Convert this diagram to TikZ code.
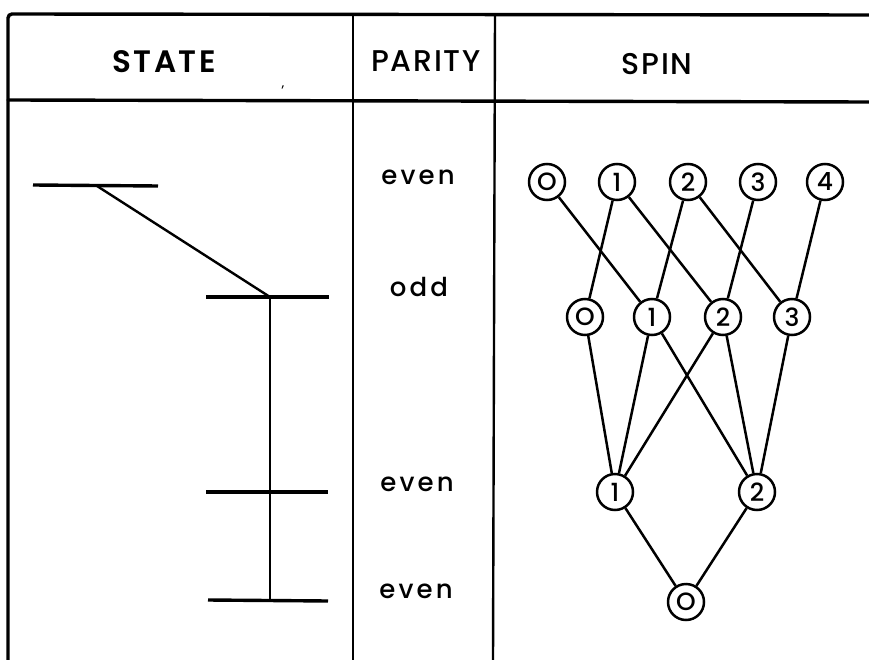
\documentclass[tikz,border=0pt]{standalone}
\usepackage{fontspec}
\setmainfont{Poppins Medium}
\newfontfamily\statefont[LetterSpace=8]{Poppins SemiBold}
\newfontfamily\headfont[LetterSpace=6]{Poppins Medium}
\newfontfamily\parfont[LetterSpace=12]{Poppins Medium}
\begin{document}
\begin{tikzpicture}[x=1pt,y=-1pt,
  frame/.style={line width=3.4pt,line cap=round},
  divider/.style={line width=2.4pt},
  level/.style={line width=3.4pt},
  link/.style={line width=2.4pt},
  headtxt/.style={font=\headfont\fontsize{30}{30}\selectfont,inner sep=0pt},
  partxt/.style={font=\parfont\fontsize{26}{26}\selectfont,inner sep=0pt},
  spin/.style={circle,draw,line width=2.5pt,minimum size=36pt,inner sep=0pt,
    font=\fontsize{25}{25}\selectfont},
  edge/.style={line width=2.5pt}]
\useasboundingbox (0,0) rectangle (869,660);
% frame
\coordinate (fbl) at (8,660);
\coordinate (ftl) at (8,14);
\coordinate (ftr) at (869,15);
\draw[frame,rounded corners=4pt] (fbl) -- (ftl) -- (ftr);
\coordinate (hl) at (8,100);
\coordinate (hr) at (869,102);
\draw[frame] (hl) -- (hr);
\coordinate (d1t) at (353,14);
\coordinate (d1b) at (353,660);
\coordinate (d2t) at (495,14);
\coordinate (d2b) at (493,660);
\draw[divider] (d1t) -- (d1b);
\draw[divider] (d2t) -- (d2b);
% headers
\node[inner sep=0pt,font=\statefont\fontsize{31}{31}\selectfont] (hstate) at (164,62) {STATE};
\node[headtxt] (hparity) at (426,61) {PARITY};
\node[headtxt] (hspin) at (657,64) {SPIN};
\node[inner sep=0pt,font=\fontsize{12}{12}\selectfont] (tick) at (283,88) {,};
% state levels
\coordinate (a1) at (33,185); \coordinate (a2) at (158,186);
\coordinate (b1) at (206,297); \coordinate (b2) at (329,297);
\coordinate (c1) at (206,492); \coordinate (c2) at (328,492);
\coordinate (e1) at (208,600); \coordinate (e2) at (328,601);
\coordinate (ak) at (97,186);
\coordinate (bk) at (270,297);
\coordinate (ek) at (270,600);
\draw[level] (a1) -- (a2);
\draw[level] (b1) -- (b2);
\draw[level] (c1) -- (c2);
\draw[level] (e1) -- (e2);
\draw[link] (ak) -- (bk);
\draw[link] (bk) -- (ek);
% parity
\node[partxt] (p1) at (418,177) {even};
\node[partxt] (p2) at (419,287) {odd};
\node[partxt] (p3) at (417,484) {even};
\node[partxt] (p4) at (416,591) {even};
% spin nodes
\node[spin] (t0) at (547,182) {O};
\node[spin] (t1) at (617,182) {1};
\node[spin] (t2) at (688,182) {2};
\node[spin] (t3) at (758,182) {3};
\node[spin] (t4) at (825,182) {4};
\node[spin] (s0) at (585,317) {O};
\node[spin] (s1) at (652,317) {1};
\node[spin] (s2) at (723,317) {2};
\node[spin] (s3) at (792,317) {3};
\node[spin] (r1) at (615,492) {1};
\node[spin] (r2) at (757,492) {2};
\node[spin] (q0) at (686,602) {O};
% edges
\draw[edge] (t0) -- (s1);
\draw[edge] (t1) -- (s0);
\draw[edge] (t1) -- (s2);
\draw[edge] (t2) -- (s1);
\draw[edge] (t2) -- (s3);
\draw[edge] (t3) -- (s2);
\draw[edge] (t4) -- (s3);
\draw[edge] (s0) -- (r1);
\draw[edge] (s1) -- (r1);
\draw[edge] (s1) -- (r2);
\draw[edge] (s2) -- (r1);
\draw[edge] (s2) -- (r2);
\draw[edge] (s3) -- (r2);
\draw[edge] (r1) -- (q0);
\draw[edge] (r2) -- (q0);
\end{tikzpicture}
\end{document}
